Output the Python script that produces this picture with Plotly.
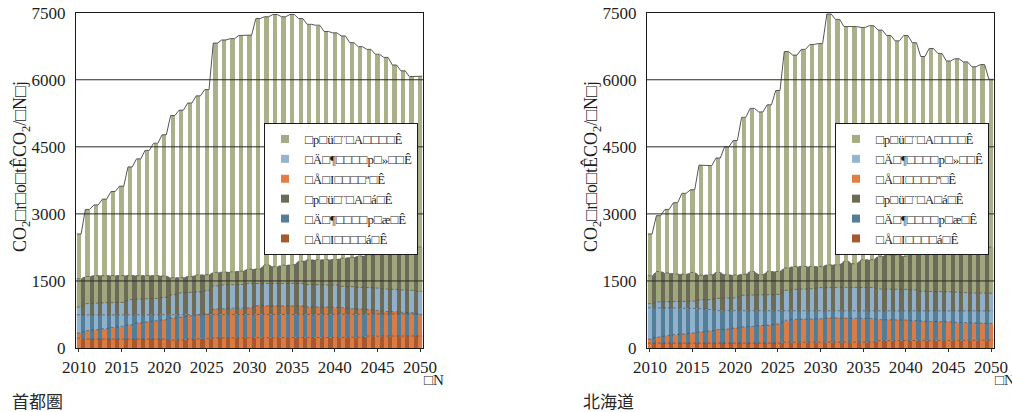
import numpy as np
import plotly.graph_objects as go

# ---- data -------------------------------------------------------------
years = np.arange(2010, 2051)

series_names = [
    "□p□ü□¨□A□□□□Ê",
    "□Ä□¶□□□□p□»□□Ê",
    "□Å□I□□□□ª□Ê",
    "□p□ü□¨□A□á□Ê",
    "□Ä□¶□□□□p□æ□Ê",
    "□Å□I□□□□á□Ê",
]
series_colors = ["#a4ab80", "#94b5d1", "#e07d45", "#6c6b56", "#547d98", "#a8582f"]

# 首都圏 : cumulative stack levels (bar stack, then area stack)
shuto_top = [2550, 3100, 3200, 3330, 3500, 3620, 4050, 4230, 4420, 4580,
             4770, 5200, 5320, 5480, 5640, 5780, 6820, 6890, 6920, 6990,
             7000, 7370, 7410, 7460, 7410, 7460, 7370, 7240, 7220, 7080,
             7050, 6980, 6830, 6740, 6680, 6570, 6500, 6330, 6200, 6070,
             6080]
shuto_lv2 = [916, 990, 1005, 1010, 1015, 1020, 1080, 1095, 1100, 1110,
             1130, 1190, 1230, 1245, 1255, 1280, 1390, 1410, 1415, 1420,
             1440, 1450, 1455, 1455, 1450, 1450, 1445, 1420, 1415, 1410,
             1405, 1380, 1370, 1360, 1350, 1340, 1320, 1310, 1300, 1290,
             1265]
shuto_lv1 = [335, 390, 410, 430, 460, 485, 520, 560, 580, 610,
             630, 670, 690, 720, 740, 760, 870, 880, 890, 890,
             895, 945, 950, 950, 945, 945, 940, 920, 915, 915,
             910, 900, 880, 870, 860, 840, 820, 810, 800, 790,
             745]
shuto_dark_top = [1550, 1600, 1620, 1630, 1635, 1635, 1630, 1630, 1625, 1620,
                  1610, 1570, 1575, 1600, 1635, 1640, 1690, 1700, 1705, 1720,
                  1760, 1770, 1860, 1820, 1850, 1860, 1940, 1970, 1975, 1970,
                  1980, 2010, 2030, 2050, 2085, 2090, 2140, 2150, 2180, 2185,
                  2260]
shuto_dark_lv2 = [740, 745, 745, 750, 750, 750, 750, 750, 750, 750,
                  745, 740, 740, 745, 750, 750, 755, 755, 755, 755,
                  755, 755, 755, 755, 755, 755, 755, 755, 755, 755,
                  755, 755, 755, 755, 755, 760, 760, 760, 760, 760,
                  760]
shuto_dark_lv1 = [220, 200, 210, 210, 210, 210, 210, 210, 210, 210,
                  200, 175, 180, 200, 205, 210, 225, 225, 225, 225,
                  230, 230, 230, 230, 235, 235, 235, 235, 235, 235,
                  235, 235, 235, 240, 265, 270, 270, 270, 270, 270,
                  270]

# 北海道
hokkaido_top = [2550, 2960, 3100, 3250, 3460, 3540, 4090, 4080, 4250, 4500,
                4640, 5160, 5360, 5280, 5440, 5760, 6630, 6550, 6680, 6790,
                6810, 7470, 7350, 7190, 7190, 7170, 7210, 7110, 6990, 6870,
                6990, 6830, 6520, 6700, 6590, 6420, 6470, 6400, 6290, 6340,
                6010]
hokkaido_lv2 = [990, 1030, 1035, 1040, 1045, 1050, 1075, 1085, 1110, 1115,
                1120, 1180, 1185, 1190, 1195, 1200, 1290, 1310, 1320, 1325,
                1350, 1360, 1365, 1365, 1360, 1360, 1355, 1320, 1320, 1315,
                1310, 1300, 1270, 1265, 1260, 1255, 1250, 1235, 1230, 1230,
                1225]
hokkaido_lv1 = [200, 245, 275, 300, 315, 335, 360, 380, 410, 425,
                445, 470, 485, 500, 515, 535, 620, 640, 650, 650,
                655, 670, 670, 670, 665, 665, 660, 635, 630, 630,
                625, 615, 600, 595, 590, 585, 575, 565, 560, 555,
                550]
hokkaido_dark_top = [1615, 1710, 1680, 1660, 1645, 1690, 1630, 1640, 1690, 1640,
                     1630, 1650, 1710, 1640, 1710, 1710, 1790, 1825, 1825, 1840,
                     1825, 1860, 1860, 1940, 1885, 1975, 1975, 2050, 2080, 2080,
                     2050, 2180, 2235, 2160, 2235, 2235, 2250, 2180, 2270, 2325,
                     2255]
hokkaido_dark_lv2 = [900, 895, 890, 890, 885, 885, 880, 860, 835, 830,
                     830, 830, 830, 830, 830, 830, 830, 830, 830, 830,
                     830, 830, 830, 830, 830, 830, 830, 830, 830, 830,
                     830, 830, 830, 830, 830, 830, 830, 830, 830, 830,
                     830]
hokkaido_dark_lv1 = [110, 110, 110, 110, 110, 110, 110, 110, 110, 110,
                     110, 110, 110, 110, 110, 110, 130, 130, 130, 130,
                     130, 130, 130, 130, 130, 130, 130, 165, 165, 165,
                     165, 170, 170, 170, 170, 170, 170, 175, 175, 175,
                     175]

x_ticks = list(range(2010, 2051, 5))
y_ticks = [0, 1500, 3000, 4500, 6000, 7500]
y_title = "CO<sub>2</sub>□r□o□tÊCO<sub>2</sub>/□N□j"
x_title = "□N"

# ---- styling ------------------------------------------------------------
W, H = 1012, 412
BAR_W = 0.5
X_RANGE = [2009.65, 2050.35]
Y_RANGE = [0, 7500]
SERIF = "Times New Roman, Liberation Serif, Tinos, DejaVu Serif, serif"
NUM_FONT = dict(family=SERIF, size=17, color="#1e1e1e")
LINE_CLR = "#555555"


def edge_xy(vals):
    """Points along the flat top of each bar, joined across the gaps."""
    xs = np.column_stack([years - BAR_W / 2, years + BAR_W / 2]).ravel()
    ys = np.repeat(np.asarray(vals, dtype=float), 2)
    return xs, ys


panels = [
    dict(caption="首都圏", base=("x", "y"), over=("x3", "y3"), legend="legend",
         levels=(shuto_lv1, shuto_lv2, shuto_top),
         dark=(shuto_dark_lv1, shuto_dark_lv2, shuto_dark_top),
         px_left=76, px_right=423),
    dict(caption="北海道", base=("x2", "y2"), over=("x4", "y4"), legend="legend2",
         levels=(hokkaido_lv1, hokkaido_lv2, hokkaido_top),
         dark=(hokkaido_dark_lv1, hokkaido_dark_lv2, hokkaido_dark_top),
         px_left=647, px_right=994),
]

fig = go.Figure()

for k, p in enumerate(panels):
    bx, by = p["base"]
    ox, oy = p["over"]
    lv1, lv2, top = (np.asarray(v, dtype=float) for v in p["levels"])
    d1, d2, dtop = (np.asarray(v, dtype=float) for v in p["dark"])

    # stacked areas (bottom -> top): series 6, 5, 4
    dark_parts = [(d1, 5), (d2 - d1, 4), (dtop - d2, 3)]
    for vals, idx in dark_parts:
        xs, ys = edge_xy(vals)
        fig.add_trace(go.Scatter(
            x=xs, y=ys, mode="lines", stackgroup=f"area{k}",
            line=dict(width=0), fillcolor=series_colors[idx],
            showlegend=False, hoverinfo="skip", xaxis=bx, yaxis=by))

    # stacked bars (bottom -> top): series 3, 2, 1
    bar_parts = [(lv1, 2), (lv2 - lv1, 1), (top - lv2, 0)]
    for vals, idx in bar_parts:
        fig.add_trace(go.Bar(
            x=years, y=vals, width=BAR_W,
            marker=dict(color=series_colors[idx], line=dict(width=0)),
            opacity=0.93, showlegend=False, hoverinfo="skip",
            xaxis=ox, yaxis=oy))

    # dashed boundaries between the stacked layers
    for vals in (d1, d2, dtop, lv1, lv2):
        xs, ys = edge_xy(vals)
        fig.add_trace(go.Scatter(
            x=xs, y=ys, mode="lines",
            line=dict(color="rgba(70,70,70,0.75)", width=0.8, dash="3px,2px"),
            showlegend=False, hoverinfo="skip", xaxis=ox, yaxis=oy))

    # outline of the total
    xs, ys = edge_xy(top)
    fig.add_trace(go.Scatter(
        x=xs, y=ys, mode="lines", line=dict(color=LINE_CLR, width=1),
        showlegend=False, hoverinfo="skip", xaxis=ox, yaxis=oy))

    # legend swatches
    for name, color in zip(series_names, series_colors):
        fig.add_trace(go.Scatter(
            x=[None], y=[None], mode="markers", name=name,
            marker=dict(symbol="square", size=8, color=color),
            legend=p["legend"], xaxis=ox, yaxis=oy))

# ---- axes -------------------------------------------------------------------
y_dom = [1 - 348 / H, 1 - 12.7 / H]
layout_axes = {}
for k, p in enumerate(panels):
    n_base = "" if k == 0 else "2"
    n_over = "3" if k == 0 else "4"
    dom = [p["px_left"] / W, p["px_right"] / W]
    layout_axes[f"xaxis{n_base}"] = dict(
        domain=dom, range=X_RANGE, anchor=f"y{n_base}", tickvals=x_ticks,
        ticks="outside", ticklen=3, tickcolor="#333", tickfont=NUM_FONT,
        showline=True, mirror=True, linecolor="#1a1a1a", linewidth=1.2,
        showgrid=False, zeroline=False, layer="above traces", automargin=False)
    layout_axes[f"yaxis{n_base}"] = dict(
        domain=y_dom, range=Y_RANGE, anchor=f"x{n_base}", tickvals=y_ticks,
        ticks="", tickfont=NUM_FONT, ticklabelstandoff=6,
        showline=True, mirror=True, linecolor="#1a1a1a", linewidth=1.2,
        showgrid=False, zeroline=False, layer="above traces", automargin=False)
    layout_axes[f"xaxis{n_over}"] = dict(
        overlaying=f"x{n_base}", range=X_RANGE, anchor=f"y{n_over}",
        visible=False, automargin=False)
    layout_axes[f"yaxis{n_over}"] = dict(
        overlaying=f"y{n_base}", range=Y_RANGE, anchor=f"x{n_over}",
        visible=False, automargin=False)

# horizontal grid lines drawn over the bars
shapes = []
for k in range(len(panels)):
    n_base = "" if k == 0 else "2"
    for v in y_ticks[1:-1]:
        shapes.append(dict(
            type="line", xref=f"x{n_base} domain", yref=f"y{n_base}",
            x0=0, x1=1, y0=v, y1=v, layer="above",
            line=dict(color="#2a2a2a", width=1)))

annotations = []
for p in panels:
    annotations.append(dict(
        text=y_title, textangle=-90, xref="paper", yref="paper",
        x=(p["px_left"] - 55) / W, y=1 - 167 / H, xanchor="center", yanchor="middle",
        showarrow=False, font=dict(family=SERIF, size=18, color="#1e1e1e")))
    annotations.append(dict(
        text=x_title, xref="paper", yref="paper",
        x=(p["px_right"] - 1) / W, y=1 - 380 / H, xanchor="left", yanchor="middle",
        showarrow=False, font=dict(family=SERIF, size=15, color="#1e1e1e")))
    annotations.append(dict(
        text=p["caption"], xref="paper", yref="paper",
        x=(p["px_left"] - 66) / W, y=1 - 400 / H, xanchor="left", yanchor="middle",
        showarrow=False,
        font=dict(family="Noto Sans CJK JP", size=17, color="#2a2a2a")))

legend_style = dict(
    bgcolor="white", bordercolor="#1a1a1a", borderwidth=1,
    font=dict(family=SERIF, size=13, color="#1e1e1e"),
    xanchor="left", yanchor="top", tracegroupgap=0, itemwidth=30,
    traceorder="normal",
)

fig.update_layout(
    width=W, height=H,
    margin=dict(l=0, r=0, t=0, b=0, autoexpand=False),
    paper_bgcolor="white", plot_bgcolor="white",
    barmode="stack", bargap=0,
    showlegend=True,
    legend=dict(x=264 / W, y=1 - 123 / H, **legend_style),
    legend2=dict(x=835 / W, y=1 - 123 / H, **legend_style),
    shapes=shapes,
    annotations=annotations,
    **layout_axes,
)

fig.write_html("out.html")
